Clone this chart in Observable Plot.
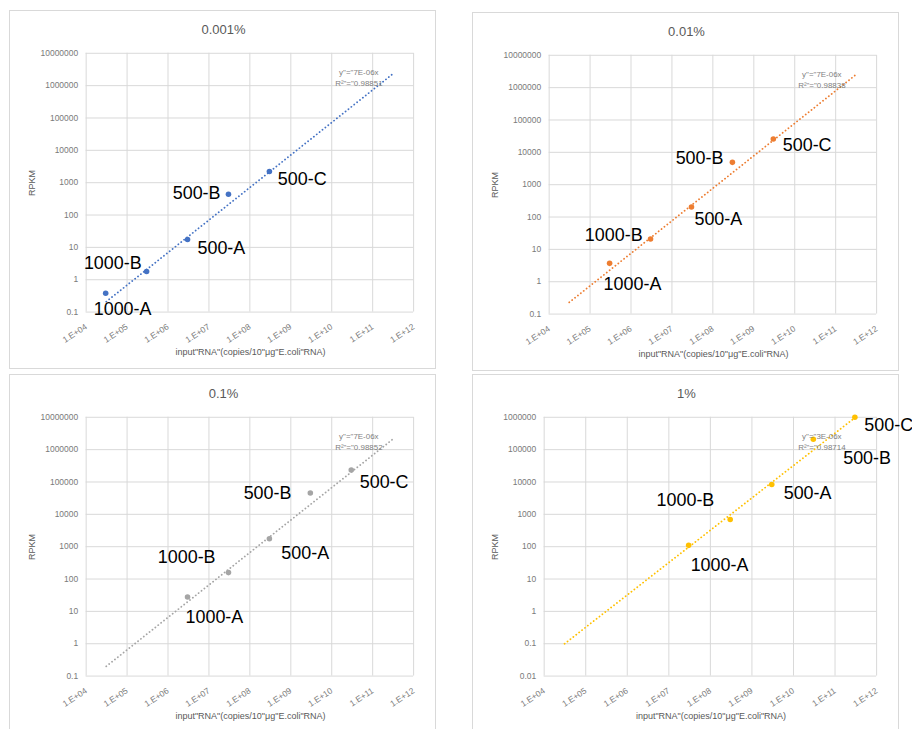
<!DOCTYPE html>
<html>
<head>
<meta charset="utf-8">
<script src="https://cdn.jsdelivr.net/npm/d3@7"></script>
<script src="https://cdn.jsdelivr.net/npm/@observablehq/plot@0.6"></script>
<style>
  html, body { margin: 0; padding: 0; background: #fff; width: 912px; height: 729px; overflow: hidden; }
  .panel { position: absolute; box-sizing: border-box; border: 1px solid #d9d9d9; background: #fff; }
  .panel svg { position: absolute; left: 0; top: 0; }
  .ttl { position: absolute; transform: translate(-50%, -50%); font: 13px "Liberation Sans", Arial, sans-serif; color: #595959; white-space: nowrap; }
  .ylab { position: absolute; transform: translate(-50%, -50%) rotate(-90deg); font: 9px "Liberation Sans", Arial, sans-serif; color: #595959; white-space: nowrap; }
  .xlab { position: absolute; transform: translate(-50%, -50%); font: 9px "Liberation Sans", Arial, sans-serif; color: #595959; white-space: nowrap; }
</style>
</head>
<body>
<script>
// ---- data ----
const panelTitles = ["0.001%", "0.01%", "0.1%", "1%"];
const pointLabels = ["1000-A", "1000-B", "500-A", "500-B", "500-C"];

const input0001 = [3e4, 3e5, 3e6, 3e7, 3e8];
const rpkm0001 = [0.38, 1.8, 17.6, 440, 2230];
const input001 = [3e5, 3e6, 3e7, 3e8, 3e9];
const rpkm001 = [3.7, 21, 205, 4900, 25700];
const input01 = [3e6, 3e7, 3e8, 3e9, 3e10];
const rpkm01 = [28, 158, 1760, 45600, 234000];
const input1 = [3e7, 3e8, 3e9, 3e10, 3e11];
const rpkm1 = [110, 695, 8360, 209000, 1000000];

// trendline end points
const trendX = [3.1e4, 3.1e11];
const trend0001 = [0.21, 2.3e6];
const trend001 = [0.23, 2.5e6];
const trend01 = [0.2, 2.1e6];
const trend1 = [0.1, 1.0e6];

const equations = [
  ['y"="7E-06x', 'R²"="0.98851'],
  ['y"="7E-06x', 'R²"="0.98838'],
  ['y"="7E-06x', 'R²"="0.98852'],
  ['y"="3E-06x', 'R²"="0.98714']
];

const xTicks = [1e4, 1e5, 1e6, 1e7, 1e8, 1e9, 1e10, 1e11, 1e12];
const xTickLabels = ["1.E+04", "1.E+05", "1.E+06", "1.E+07", "1.E+08", "1.E+09", "1.E+10", "1.E+11", "1.E+12"];
const yTicksA = [0.1, 1, 10, 100, 1000, 10000, 100000, 1000000, 10000000];
const yTickLabelsA = ["0.1", "1", "10", "100", "1000", "10000", "100000", "1000000", "10000000"];
const yTicksB = [0.01, 0.1, 1, 10, 100, 1000, 10000, 100000, 1000000];
const yTickLabelsB = ["0.01", "0.1", "1", "10", "100", "1000", "10000", "100000", "1000000"];

const xTitle = 'input"RNA"(copies/10"μg"E.coli"RNA)';
const yTitle = "RPKM";

// ---- layout / style ----
const colors = ["#4472C4", "#ED7D31", "#A5A5A5", "#FFC000"];
const panelsLayout = [
  {left: 9, top: 10, mL: 76, yT: yTicksA, yL: yTickLabelsA, xs: input0001, ys: rpkm0001, tr: trend0001,
   off: [[17, 16], [-34, -8], [34, 9], [-32, -1], [33, 8]]},
  {left: 472, top: 12, mL: 76, yT: yTicksA, yL: yTickLabelsA, xs: input001, ys: rpkm001, tr: trend001,
   off: [[23, 21], [-37, -4], [27, 12], [-33, -4], [34, 6]]},
  {left: 9, top: 374, mL: 76, yT: yTicksA, yL: yTickLabelsA, xs: input01, ys: rpkm01, tr: trend01,
   off: [[27, 20], [-42, -15], [36, 15], [-43, 0], [33, 12]]},
  {left: 472, top: 374, mL: 71, yT: yTicksB, yL: yTickLabelsB, xs: input1, ys: rpkm1, tr: trend1,
   off: [[31, 20], [-45, -19], [36, 9], [54, 19], [34, 8]]}
];

const W = 427, H = 359, mR = 22, mT = 42, mB = 57;
const xFmt = new Map(xTicks.map((t, i) => [t, xTickLabels[i]]));

panelsLayout.forEach((p, k) => {
  const div = document.createElement("div");
  div.className = "panel";
  div.style.left = p.left + "px";
  div.style.top = p.top + "px";
  div.style.width = W + "px";
  div.style.height = (k < 2 ? H : 362) + "px";
  document.body.appendChild(div);

  const yFmt = new Map(p.yT.map((t, i) => [t, p.yL[i]]));
  const pts = p.xs.map((x, i) => ({x, y: p.ys[i], label: pointLabels[i]}));
  const trend = trendX.map((x, i) => ({x, y: p.tr[i]}));

  const marks = [
    Plot.ruleX(xTicks, {stroke: "#d9d9d9", strokeWidth: 1}),
    Plot.ruleY(p.yT, {stroke: "#d9d9d9", strokeWidth: 1}),
    Plot.line(trend, {x: "x", y: "y", stroke: colors[k], strokeWidth: 1.8, strokeDasharray: "0.1,3.6", strokeLinecap: "round"}),
    Plot.dot(pts, {x: "x", y: "y", r: 2.8, fill: colors[k], stroke: "none"}),
    ...pts.map((d, i) => Plot.text([d], {x: "x", y: "y", text: "label", dx: p.off[i][0], dy: p.off[i][1],
      fontSize: 18, fill: "#000", fontFamily: "Liberation Sans, Arial, sans-serif"})),
    Plot.text([equations[k][0]], {frameAnchor: "top-right", dx: -55, dy: 16, text: d => d, textAnchor: "middle", fontSize: 8, fill: "#7f7f7f"}),
    Plot.text([equations[k][1]], {frameAnchor: "top-right", dx: -55, dy: 27, text: d => d, textAnchor: "middle", fontSize: 8, fill: "#7f7f7f"})
  ];

  const svg = Plot.plot({
    width: W, height: H,
    marginLeft: p.mL, marginRight: mR, marginTop: mT, marginBottom: mB,
    style: {fontFamily: "Liberation Sans, Arial, sans-serif", fontSize: "8.5px", color: "#7a7a7a", background: "transparent", overflow: "visible"},
    x: {type: "log", domain: [1e4, 1e12], ticks: xTicks, tickFormat: d => xFmt.get(d), tickRotate: -33, tickSize: 0, tickPadding: 14, label: null},
    y: {type: "log", domain: [p.yT[0], p.yT[p.yT.length - 1]], ticks: p.yT, tickFormat: d => yFmt.get(d), tickSize: 0, tickPadding: 8, label: null},
    marks
  });
  div.appendChild(svg);

  const t = document.createElement("div");
  t.className = "ttl"; t.textContent = panelTitles[k];
  t.style.left = (W / 2) + "px"; t.style.top = "18px";
  div.appendChild(t);

  const yl = document.createElement("div");
  yl.className = "ylab"; yl.textContent = yTitle;
  yl.style.left = "22px"; yl.style.top = (mT + (H - mT - mB) / 2) + "px";
  div.appendChild(yl);

  const xl = document.createElement("div");
  xl.className = "xlab"; xl.textContent = xTitle;
  xl.style.left = ((p.mL + W - mR) / 2) + "px"; xl.style.top = "341px";
  div.appendChild(xl);
});
</script>
</body>
</html>
